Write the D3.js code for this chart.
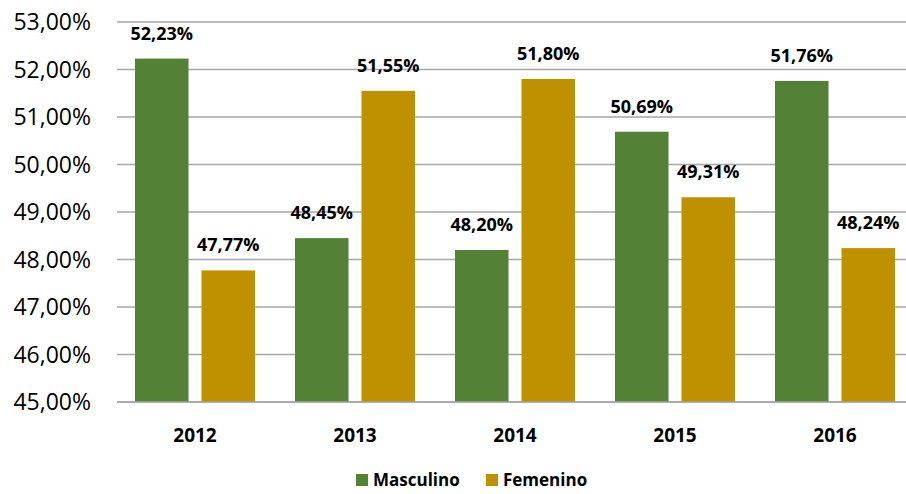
<!DOCTYPE html>
<html>
<head>
<meta charset="utf-8">
<script src="https://cdn.jsdelivr.net/npm/d3@7"></script>
<style>
  body { margin: 0; background: #fff; }
  svg { display: block; font-family: "Open Sans", Lato, sans-serif; }
</style>
</head>
<body>
<svg width="906" height="494"></svg>
<script>
var years = ["2012", "2013", "2014", "2015", "2016"];
var masculino = [52.23, 48.45, 48.20, 50.69, 51.76];
var femenino = [47.77, 51.55, 51.80, 49.31, 48.24];
var seriesNames = ["Masculino", "Femenino"];
var seriesColors = ["#538135", "#bf9000"];
var yTicks = [45, 46, 47, 48, 49, 50, 51, 52, 53];

var svg = d3.select("svg");
var fmt = function (v) { return v.toFixed(2).replace(".", ",") + "%"; };

var x = d3.scaleBand().domain(years).range([117, 917]).paddingInner(0).paddingOuter(0);
var xs = d3.scaleBand().domain([0, 1]).range([18, 138]).paddingInner(0.195);
var y = d3.scaleLinear().domain([45, 53]).range([402, 22]);

// gridlines
svg.append("g")
    .selectAll("line")
    .data(yTicks)
    .enter()
    .append("line")
    .attr("x1", 117).attr("x2", 906)
    .attr("y1", function (d) { return y(d); })
    .attr("y2", function (d) { return y(d); })
    .attr("stroke", "#a6a6a6")
    .attr("stroke-width", 1.3);

// y labels
svg.append("g")
    .selectAll("text")
    .data(yTicks)
    .enter()
    .append("text")
    .attr("x", 91)
    .attr("y", function (d) { return y(d); })
    .attr("dy", "0.36em")
    .attr("text-anchor", "end")
    .attr("font-size", 23)
    .attr("fill", "#000")
    .text(function (d) { return d.toFixed(2).replace(".", ",") + "%"; });

var rows = years.map(function (yr, i) { return { year: yr, vals: [masculino[i], femenino[i]] }; });

var grp = svg.append("g").selectAll("g")
    .data(rows)
    .enter()
    .append("g")
    .attr("transform", function (d) { return "translate(" + x(d.year) + ",0)"; });

grp.selectAll("rect")
    .data(function (d) { return d.vals; })
    .enter()
    .append("rect")
    .attr("x", function (d, i) { return xs(i); })
    .attr("width", xs.bandwidth())
    .attr("y", function (d) { return y(d); })
    .attr("height", function (d) { return y(45) - y(d); })
    .attr("fill", function (d, i) { return seriesColors[i]; });

grp.selectAll("text")
    .data(function (d) { return d.vals; })
    .enter()
    .append("text")
    .attr("x", function (d, i) { return xs(i) + xs.bandwidth() / 2; })
    .attr("y", function (d) { return y(d) - 19; })
    .attr("text-anchor", "middle")
    .attr("font-size", 18)
    .attr("font-weight", "bold")
    .text(fmt);

// baseline
svg.append("line")
    .attr("x1", 117).attr("x2", 906)
    .attr("y1", y(45)).attr("y2", y(45))
    .attr("stroke", "#a6a6a6").attr("stroke-width", 1.3);

// x labels
svg.append("g")
    .selectAll("text")
    .data(years)
    .enter()
    .append("text")
    .attr("x", function (d) { return x(d) + 78; })
    .attr("y", 442)
    .attr("text-anchor", "middle")
    .attr("font-size", 19)
    .attr("font-weight", "bold")
    .text(function (d) { return d; });

// legend
var legX = [356, 486];
var leg = svg.append("g").selectAll("g")
    .data(seriesNames)
    .enter()
    .append("g")
    .attr("transform", function (d, i) { return "translate(" + legX[i] + ",474)"; });
leg.append("rect").attr("width", 12).attr("height", 12)
    .attr("fill", function (d, i) { return seriesColors[i]; });
leg.append("text").attr("x", 17).attr("y", 6).attr("dy", "0.36em")
    .attr("font-size", 17).attr("font-weight", "bold")
    .text(function (d) { return d; });
</script>
</body>
</html>
